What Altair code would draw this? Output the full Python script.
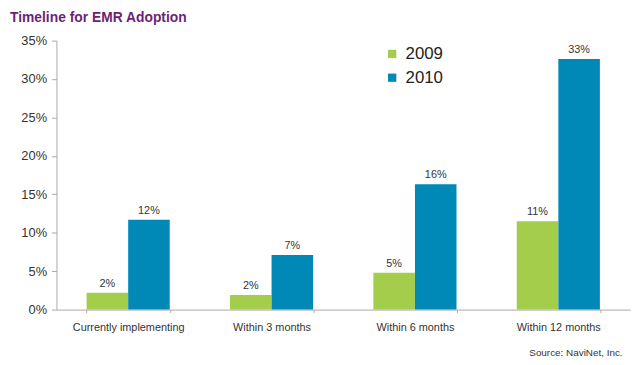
import altair as alt
import pandas as pd

categories = ["Currently implementing", "Within 3 months", "Within 6 months", "Within 12 months"]
years = ["2009", "2010"]
values_2009 = [0.022, 0.019, 0.048, 0.115]
values_2010 = [0.117, 0.071, 0.163, 0.326]
labels_2009 = ["2%", "2%", "5%", "11%"]
labels_2010 = ["12%", "7%", "16%", "33%"]
y_ticks = [0, 0.05, 0.10, 0.15, 0.20, 0.25, 0.30, 0.35]

rows = []
for i, c in enumerate(categories):
    rows.append({"category": c, "year": "2009", "value": values_2009[i], "label": labels_2009[i]})
    rows.append({"category": c, "year": "2010", "value": values_2010[i], "label": labels_2010[i]})
df = pd.DataFrame(rows)

x = alt.X(
    "category:N",
    sort=categories,
    scale=alt.Scale(paddingInner=0.42, paddingOuter=0.21),
    axis=alt.Axis(
        title="Source: NaviNet, Inc.",
        titleAnchor="end",
        titleAlign="right",
        titleBaseline="alphabetic",
        titleX=572,
        titleY=46,
        titleFontWeight="normal",
        titleFontSize=10,
        titleColor="#333333",
        titleFont="Liberation Sans",
        labelAngle=0,
        labelFontSize=11,
        labelColor="#333333",
        labelFont="Liberation Sans",
        labelPadding=9,
        tickBand="extent",
        tickSize=3,
        tickColor="#aaaaaa",
        domainColor="#aaaaaa",
        labelLimit=200,
    ),
)
y = alt.Y(
    "value:Q",
    scale=alt.Scale(domain=[0, 0.35]),
    axis=alt.Axis(
        title=None,
        format=".0%",
        values=y_ticks,
        grid=False,
        labelFontSize=13,
        labelColor="#333333",
        labelFont="Liberation Sans",
        labelPadding=5,
        tickSize=5,
        tickColor="#aaaaaa",
        domainColor="#aaaaaa",
    ),
)
color = alt.Color(
    "year:N",
    scale=alt.Scale(domain=years, range=["#a3cd4a", "#0089b6"]),
    legend=alt.Legend(
        title=None,
        orient="none",
        legendX=331,
        legendY=5,
        symbolType="square",
        symbolSize=70,
        symbolStrokeWidth=0,
        labelFontSize=17,
        labelFont="Liberation Sans",
        labelColor="#222222",
        rowPadding=6,
        labelOffset=5,
    ),
)

base = alt.Chart(df).encode(x=x, xOffset=alt.XOffset("year:N", sort=years))
bars = base.mark_bar(size=42).encode(y=y, color=color)
texts = base.mark_text(dy=-9, fontSize=11, font="Liberation Sans", color="#333333").encode(
    y=y, text="label:N"
)

chart = (
    alt.layer(bars, texts)
    .properties(
        width=580,
        height=272,
        autosize=alt.AutoSizeParams(type="none"),
        padding={"left": 49, "top": 31, "right": 2, "bottom": 50},
        title=alt.TitleParams(
            "Timeline for EMR Adoption",
            anchor="start",
            frame="group",
            dx=-47,
            fontSize=14,
            font="Liberation Sans",
            fontWeight="bold",
            color="#6e1f73",
            offset=10,
        ),
    )
    .configure_view(stroke=None)
)

chart.save("out.html", embed_options={"renderer": "svg", "actions": False})
